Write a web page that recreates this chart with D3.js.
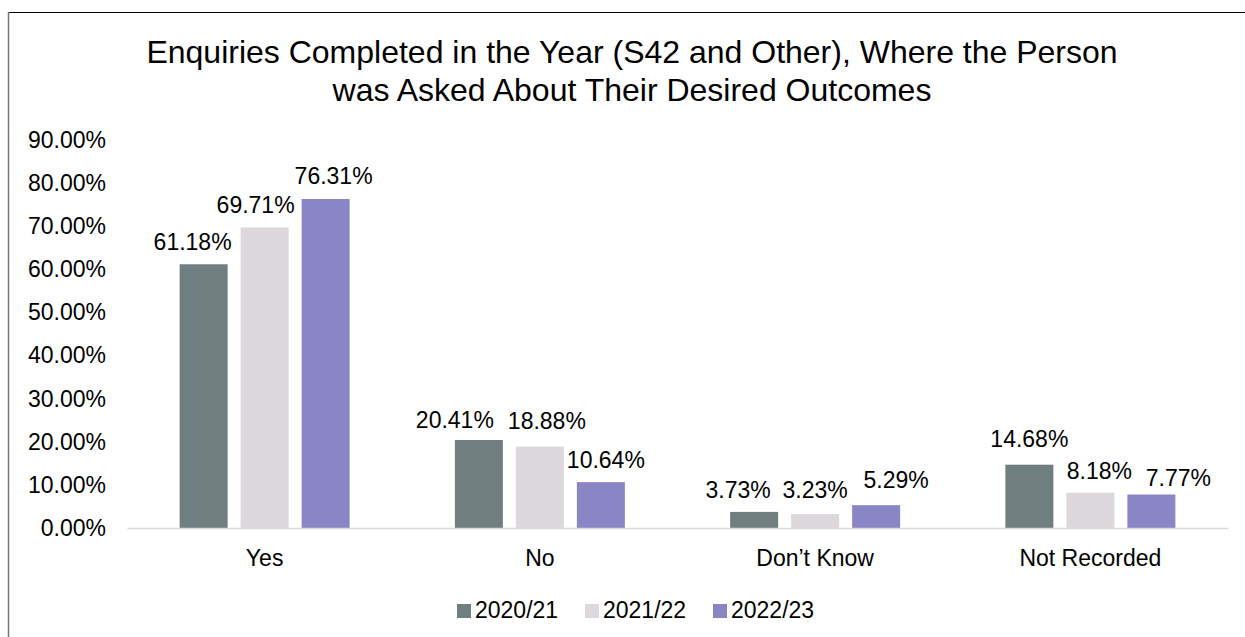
<!DOCTYPE html>
<html>
<head>
<meta charset="utf-8">
<script src="https://cdn.jsdelivr.net/npm/d3@7"></script>
<style>
  body { margin: 0; background: #fff; }
  svg { display: block; font-family: "Liberation Sans", Arial, sans-serif; }
</style>
</head>
<body>
<svg id="chart" width="1245" height="637"></svg>
<script>
// Data
const categories = ["Yes", "No", "Don\u2019t Know", "Not Recorded"];
const seriesNames = ["2020/21", "2021/22", "2022/23"];
const values2020 = [61.18, 20.41, 3.73, 14.68];
const values2021 = [69.71, 18.88, 3.23, 8.18];
const values2022 = [76.31, 10.64, 5.29, 7.77];
const yTicks = [0, 10, 20, 30, 40, 50, 60, 70, 80, 90];
const colors = ["#6F7F80", "#DCD8DC", "#8A86C6"];

const allSeries = [values2020, values2021, values2022];

// hand-placed data label nudges (px), one row per series, as in the original
const labelDx = [[-11, -24, -16, 0], [-9, 7, 0, 9], [8, 5, 20, 27]];
const labelGap = [[14, 12, 14, 18], [14, 18, 16, 14], [15, 14, 17, 9]];

const width = 1245, height = 637;
const margin = { top: 140, right: 17, bottom: 109, left: 127 };
const fs = 23;

const svg = d3.select("#chart");

// chart frame (only left and top edges show in the picture)
svg.append("line").attr("x1", 8).attr("x2", 1245).attr("y1", 12.5).attr("y2", 12.5)
  .attr("stroke", "#000").attr("stroke-width", 1.2);
svg.append("line").attr("x1", 8.5).attr("x2", 8.5).attr("y1", 12).attr("y2", 637)
  .attr("stroke", "#777").attr("stroke-width", 1.5);

// Title
const title = svg.append("text")
  .attr("text-anchor", "middle")
  .attr("font-size", 32)
  .attr("fill", "#000");
title.append("tspan").attr("x", 632).attr("y", 63)
  .text("Enquiries Completed in the Year (S42 and Other), Where the Person");
title.append("tspan").attr("x", 632).attr("y", 101)
  .text("was Asked About Their Desired Outcomes");

// Scales
const x = d3.scaleBand()
  .domain(categories)
  .range([margin.left, width - margin.right]);

const y = d3.scaleLinear()
  .domain([0, 90])
  .range([height - margin.bottom, margin.top]);

const barW = 48, step = 61;
const barCenter = (i, si) => x(categories[i]) + x.bandwidth() / 2 + (si - 1) * step;

// y axis labels
const yAxis = svg.append("g")
  .attr("transform", `translate(${margin.left},0)`)
  .call(d3.axisLeft(y).tickValues(yTicks).tickSize(0).tickPadding(21)
    .tickFormat(d => d.toFixed(2) + "%"));
yAxis.select(".domain").remove();
yAxis.selectAll("text").attr("font-size", fs).attr("fill", "#000")
  .attr("font-family", "Liberation Sans, Arial, sans-serif");

// bars
seriesNames.forEach((name, si) => {
  const g = svg.append("g").attr("fill", colors[si]);
  g.selectAll("rect")
    .data(allSeries[si])
    .join("rect")
    .attr("x", (d, i) => barCenter(i, si) - barW / 2)
    .attr("y", d => y(d))
    .attr("width", barW)
    .attr("height", d => y(0) - y(d));

  svg.append("g").selectAll("text")
    .data(allSeries[si])
    .join("text")
    .attr("x", (d, i) => barCenter(i, si) + labelDx[si][i])
    .attr("y", (d, i) => y(d) - labelGap[si][i])
    .attr("text-anchor", "middle")
    .attr("font-size", fs)
    .attr("fill", "#000")
    .text(d => d.toFixed(2) + "%");
});

// x axis
const xAxis = svg.append("g")
  .attr("transform", `translate(0,${y(0)})`)
  .call(d3.axisBottom(x).tickSize(0).tickPadding(22));
xAxis.select(".domain").attr("stroke", "#D9D9D9").attr("stroke-width", 1.3);
xAxis.selectAll("text").attr("font-size", fs).attr("fill", "#000")
  .attr("font-family", "Liberation Sans, Arial, sans-serif");

// legend
const legendX = [457, 585, 713];
const legend = svg.append("g");
seriesNames.forEach((name, i) => {
  legend.append("rect")
    .attr("x", legendX[i]).attr("y", 604)
    .attr("width", 14).attr("height", 14)
    .attr("fill", colors[i]);
  legend.append("text")
    .attr("x", legendX[i] + 18).attr("y", 618)
    .attr("font-size", fs).attr("fill", "#000")
    .text(name);
});
</script>
</body>
</html>
